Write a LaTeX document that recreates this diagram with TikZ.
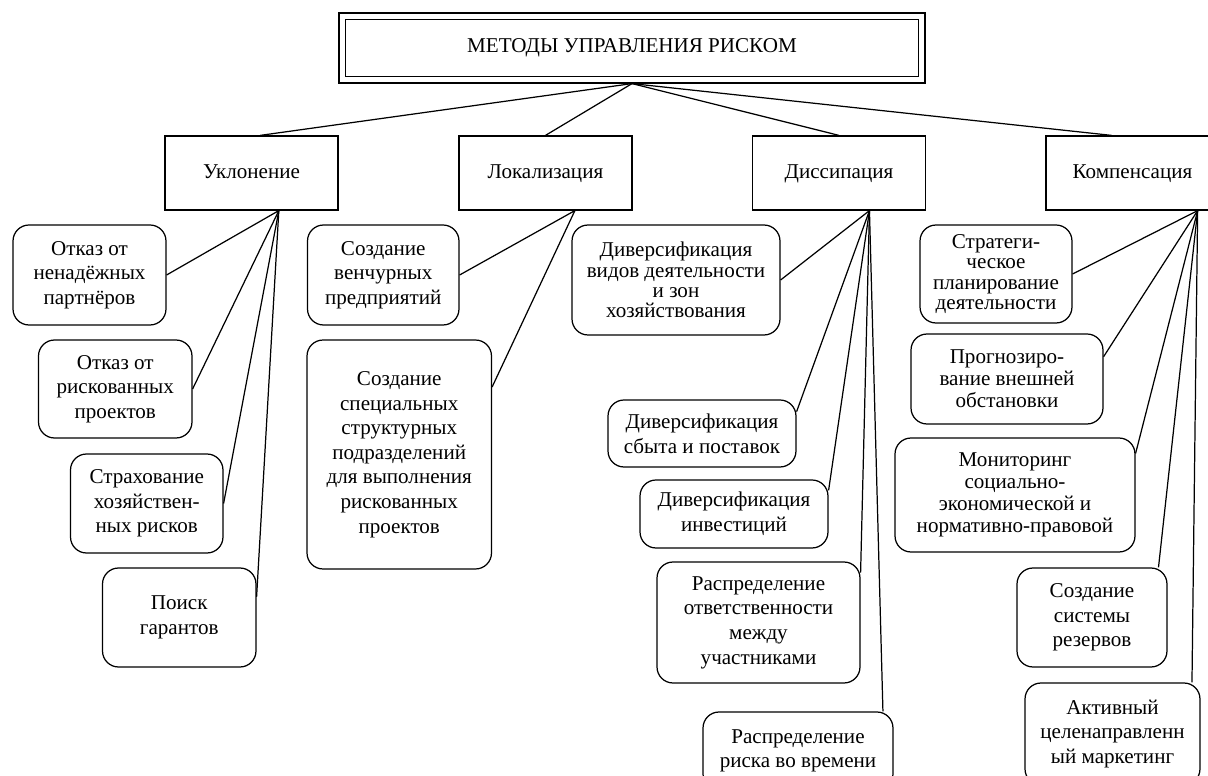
\documentclass[tikz,border=0pt]{standalone}
\usepackage{fontspec}
\setmainfont{Liberation Serif}

\begin{document}
\begin{tikzpicture}[x=0.02cm, y=-0.02cm, line width=0.7pt,
    every node/.style={font=\fontsize{12}{14}\selectfont, align=center, inner sep=0pt},
    titlebox/.style={draw, double, double distance=3.1pt, outer sep=2.2pt},
    groupbox/.style={draw, minimum width=3.46cm, minimum height=1.48cm, text height=8.5pt, text depth=2.5pt},
    leafbox/.style={draw, rounded corners=0.32cm},
    tight/.style={font=\fontsize{12}{11.5}\selectfont}]
        \useasboundingbox (0,0) rectangle (1208,776);

        % Nodes
        \node(top) [titlebox, minimum width=11.59cm, minimum height=1.27cm] at (632,48) {МЕТОДЫ УПРАВЛЕНИЯ РИСКОМ};

        \node(ukl) [groupbox] at (251.5,173) {Уклонение};
        \node(lok) [groupbox] at (545.5,173) {Локализация};
        \node(dis) [groupbox] at (839,173) {Диссипация};
        \node(kom) [groupbox] at (1132.5,173) {Компенсация};

        \node(ukl1) [leafbox, minimum width=3.06cm, minimum height=2cm] at (89.5,275) {Отказ от\\ненадёжных\\партнёров};
        \node(ukl2) [leafbox, minimum width=3.07cm, minimum height=1.96cm] at (115.25,389) {Отказ от\\рискованных\\проектов};
        \node(ukl3) [leafbox, minimum width=3.05cm, minimum height=1.98cm] at (146.75,503.5) {Страхование\\хозяйствен-\\ных рисков};
        \node(ukl4) [leafbox, minimum width=3.07cm, minimum height=1.98cm] at (179.25,617.5) {Поиск\\гарантов};

        \node(lok1) [leafbox, minimum width=3.03cm, minimum height=2cm] at (383.25,275) {Создание\\венчурных\\предприятий};
        \node(lok2) [leafbox, minimum width=3.69cm, minimum height=4.58cm] at (399.25,454.5) {Создание\\специальных\\структурных\\подразделений\\для выполнения\\рискованных\\проектов};

        \node(dis1) [leafbox, tight, minimum width=4.16cm, minimum height=2.2cm] at (676,280) {Диверсификация\\видов деятельности\\и зон\\хозяйствования};
        \node(dis2) [leafbox, minimum width=3.76cm, minimum height=1.34cm] at (702,433.5) {Диверсификация\\сбыта и поставок};
        \node(dis3) [leafbox, minimum width=3.76cm, minimum height=1.36cm] at (734,514) {Диверсификация\\инвестиций};
        \node(dis4) [leafbox, minimum width=4.06cm, minimum height=2.42cm] at (758.5,622.5) {Распределение\\ответственности\\между\\участниками};
        \node(dis5) [leafbox, minimum width=3.8cm, minimum height=1.56cm] at (798,751) {Распределение\\риска во времени};

        \node(kom1) [leafbox, tight, minimum width=3.04cm, minimum height=1.96cm] at (996,274) {Стратеги-\\ческое\\планирование\\деятельности};
        \node(kom2) [leafbox, font=\fontsize{12}{12.5}\selectfont, minimum width=3.84cm, minimum height=1.8cm] at (1007,379) {Прогнозиро-\\вание внешней\\обстановки};
        \node(kom3) [leafbox, font=\fontsize{12}{12.5}\selectfont, minimum width=4.8cm, minimum height=2.28cm] at (1015,495) {Мониторинг\\социально-\\экономической и\\нормативно-правовой};
        \node(kom4) [leafbox, minimum width=3cm, minimum height=1.98cm] at (1092,617.5) {Создание\\системы\\резервов};
        \node(kom5) [leafbox, minimum width=3.5cm, minimum height=2.04cm] at (1112.5,734) {Активный\\целенаправленн\\ый маркетинг};

        % Edges
        \draw (top.south) -- (ukl.77);
        \draw (top.south) -- (lok.north);
        \draw (top.south) -- (dis.north);
        \draw (top.south) -- (kom.119);

        \draw (ukl.-54) -- (ukl1.east);
        \draw (ukl.-54) -- (ukl2.east);
        \draw (ukl.-54) -- (ukl3.east);
        \draw (ukl.-54) -- (ukl4.15);

        \draw (lok.-52) -- (lok1.east);
        \draw (lok.-52) -- (lok2.36);

        \draw (dis.-51) -- (dis1.east);
        \draw (dis.-51) -- (dis2.13);
        \draw (dis.-51) -- (dis3.14);
        \draw (dis.-51) -- (dis4.26);
        \draw (dis.-51) -- (dis5.25);

        \draw (kom.-30) -- (kom1.east);
        \draw (kom.-30) -- (kom2.13);
        \draw (kom.-30) -- (kom3.19);
        \draw (kom.-30) -- (kom4.37);
        \draw (kom.-30) -- (kom5.33);
\end{tikzpicture}
\end{document}
